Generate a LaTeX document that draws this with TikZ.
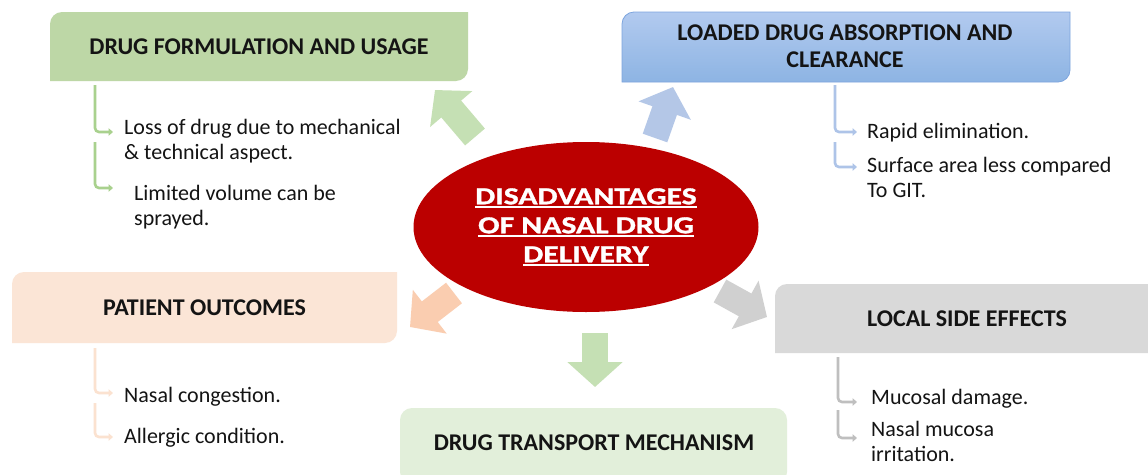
\documentclass[tikz,border=0pt]{standalone}
\usepackage{fontspec}
\setmainfont{Carlito}
\newfontfamily\ctrfont{Carlito}[FakeStretch=1.3,FakeBold=1.3]
\usetikzlibrary{arrows.meta,calc,shapes.geometric}
\definecolor{txt}{RGB}{20,20,20}
\definecolor{gfill}{RGB}{189,215,166}
\definecolor{garrow}{RGB}{197,224,180}
\definecolor{gline}{RGB}{169,209,142}
\definecolor{btop}{RGB}{178,202,239}
\definecolor{bbot}{RGB}{141,180,227}
\definecolor{bedge}{RGB}{125,165,222}
\definecolor{barrow}{RGB}{180,199,231}
\definecolor{bline}{RGB}{174,196,232}
\definecolor{pfill}{RGB}{251,229,214}
\definecolor{parrow}{RGB}{250,205,176}
\definecolor{pline}{RGB}{251,226,208}
\definecolor{kfill}{RGB}{217,217,217}
\definecolor{karrow}{RGB}{208,208,208}
\definecolor{kline}{RGB}{191,191,191}
\definecolor{lgfill}{RGB}{226,239,218}
\definecolor{ellred}{RGB}{187,0,0}
\newcommand\ulw[1]{\setbox0\hbox{#1}\rlap{\rule[-3.5pt]{\wd0}{2pt}}\box0}
% box with rounded top-left and bottom-right corners: [options]{x1}{y1}{x2}{y2}
\newcommand\dbox[5][]{\path[#1] (#2,#5) -- (#2,#3+12) .. controls (#2,#3+5.4) and (#2+5.4,#3) .. (#2+12,#3)
  -- (#4,#3) -- (#4,#5-12) .. controls (#4,#5-5.4) and (#4-5.4,#5) .. (#4-12,#5) -- cycle;}
\tikzset{
  title/.style={inner sep=0pt, text=txt, align=center,
    font=\bfseries\fontsize{24}{27}\selectfont},
  body/.style={anchor=base west, inner sep=0pt, text=txt, align=left,
    font=\fontsize{22}{25}\selectfont},
  bigarrow/.style={line width=26pt, -{Triangle[length=25pt,width=54pt]}},
  brk/.style={line width=2.6pt, rounded corners=4pt, -{Triangle[length=4.5pt,width=7.5pt]}},
}
\begin{document}
\begin{tikzpicture}[x=1pt,y=-1pt]
\useasboundingbox (0,0) rectangle (1148,474);
\fill[white] (0,0) rectangle (1148,474);

% boxes
\dbox[fill=gfill]{50}{12}{468}{81}
\node[title] (gtitle) at (259,46.5) {DRUG FORMULATION AND USAGE};

\dbox[top color=btop, bottom color=bbot, draw=bedge, line width=0.8pt]{622}{12}{1070}{82}
\node[title] (btitle) at (845,46.5) {LOADED DRUG ABSORPTION AND\\CLEARANCE};

\dbox[fill=pfill]{12}{272}{397}{343}
\node[title] (ptitle) at (204.5,307.5) {PATIENT OUTCOMES};

\dbox[fill=kfill]{775}{284}{1160}{353}
\node[title] (ktitle) at (967,318.5) {LOCAL SIDE EFFECTS};

\fill[lgfill, rounded corners=12pt] (400,408) rectangle (787,484);
\node[title] (ttitle) at (594,443) {DRUG TRANSPORT MECHANISM};

% centre
\node[ellipse, fill=ellred, minimum width=345pt, minimum height=170pt, inner sep=0pt,
  text=white, align=center, font=\ctrfont\bfseries\fontsize{24.4}{29}\selectfont] (ctr) at (586,227)
  {\ulw{DISADVANTAGES}\\\ulw{OF NASAL DRUG}\\\ulw{DELIVERY}};

% block arrows
\coordinate (ga0) at (475,137); \coordinate (ga1) at (435,90);
\coordinate (ba0) at (655,138); \coordinate (ba1) at (673,87);
\coordinate (pa0) at (454,293); \coordinate (pa1) at (410,327);
\coordinate (ka0) at (720,291); \coordinate (ka1) at (767,317);
\coordinate (ta0) at (595,333); \coordinate (ta1) at (595,387);
\draw[bigarrow, garrow] (ga0) -- (ga1);
\draw[bigarrow, barrow] (ba0) -- (ba1);
\draw[bigarrow, parrow] (pa0) -- (pa1);
\draw[bigarrow, karrow] (ka0) -- (ka1);
\draw[bigarrow, garrow] (ta0) -- (ta1);

% body texts (base = baseline of the last line)
\node[body] (t1) at (124,159) {Loss of drug due to mechanical\\\& technical aspect.};
\node[body] (t2) at (134,225) {Limited volume can be\\sprayed.};
\node[body] (t3) at (867,138) {Rapid elimination.};
\node[body] (t4) at (867,197) {Surface area less compared\\To GIT.};
\node[body] (t5) at (124,402) {Nasal congestion.};
\node[body] (t6) at (124,443) {Allergic condition.};
\node[body] (t7) at (871,404) {Mucosal damage.};
\node[body] (t8) at (871,461) {Nasal mucosa\\irritation.};

% bracket connectors
\coordinate (g1a) at (95,85);  \coordinate (g1b) at (113,132);
\coordinate (g2a) at (95,142); \coordinate (g2b) at (113,188);
\coordinate (b1a) at (835,85); \coordinate (b1b) at (857,132);
\coordinate (b2a) at (835,142);\coordinate (b2b) at (857,167);
\coordinate (p1a) at (95,348); \coordinate (p1b) at (113,393);
\coordinate (p2a) at (95,403); \coordinate (p2b) at (113,437);
\coordinate (k1a) at (838,357);\coordinate (k1b) at (857,402);
\coordinate (k2a) at (838,410);\coordinate (k2b) at (857,438);
\draw[brk, gline] (g1a) |- (g1b);
\draw[brk, gline] (g2a) |- (g2b);
\draw[brk, bline] (b1a) |- (b1b);
\draw[brk, bline] (b2a) |- (b2b);
\draw[brk, pline] (p1a) |- (p1b);
\draw[brk, pline] (p2a) |- (p2b);
\draw[brk, kline] (k1a) |- (k1b);
\draw[brk, kline] (k2a) |- (k2b);
\end{tikzpicture}
\end{document}
